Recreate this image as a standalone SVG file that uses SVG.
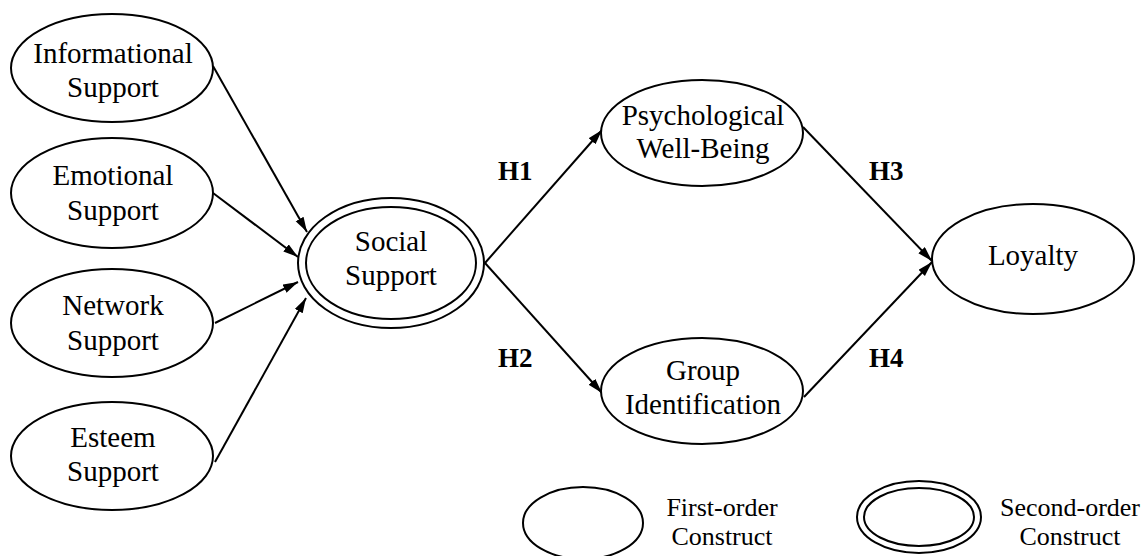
<svg xmlns="http://www.w3.org/2000/svg" width="1147" height="556" viewBox="0 0 1147 556">
<style>
.n{fill:#fff;stroke:#000;stroke-width:2}
.t{font-family:"Liberation Serif","Times New Roman",serif;font-size:29px;text-anchor:middle;fill:#000}
.l{font-family:"Liberation Serif","Times New Roman",serif;font-size:26px;text-anchor:middle;fill:#000}
.h{font-family:"Liberation Serif","Times New Roman",serif;font-size:27px;font-weight:bold;fill:#000}
.c{stroke:#000;stroke-width:2;fill:none}
</style>
<defs>
<marker id="ar" markerUnits="userSpaceOnUse" markerWidth="16" markerHeight="10" refX="15" refY="4.5" orient="auto">
<path d="M0,0 L15,4.5 L0,9 z" fill="#000"/>
</marker>
</defs>
<rect width="1147" height="556" fill="#fff"/>
<g id="connectors">
<line class="c" x1="213" y1="66" x2="307" y2="232" marker-end="url(#ar)"/>
<line class="c" x1="213" y1="193" x2="298" y2="257" marker-end="url(#ar)"/>
<line class="c" x1="215" y1="323" x2="298" y2="282" marker-end="url(#ar)"/>
<line class="c" x1="215" y1="462" x2="306" y2="298" marker-end="url(#ar)"/>
<line class="c" x1="485" y1="263" x2="602" y2="130" marker-end="url(#ar)"/>
<line class="c" x1="485" y1="263" x2="602" y2="393" marker-end="url(#ar)"/>
<line class="c" x1="803" y1="127" x2="932" y2="261" marker-end="url(#ar)"/>
<line class="c" x1="804" y1="397" x2="932" y2="262" marker-end="url(#ar)"/>
</g>
<g id="informational">
<ellipse class="n" cx="112" cy="68" rx="101" ry="54"/>
<text class="t" x="113" y="63">Informational</text>
<text class="t" x="113" y="97">Support</text>
</g>
<g id="emotional">
<ellipse class="n" cx="112" cy="193" rx="101" ry="55"/>
<text class="t" x="113" y="185">Emotional</text>
<text class="t" x="113" y="220">Support</text>
</g>
<g id="network">
<ellipse class="n" cx="112" cy="323" rx="101" ry="54"/>
<text class="t" x="113" y="315">Network</text>
<text class="t" x="113" y="350">Support</text>
</g>
<g id="esteem">
<ellipse class="n" cx="112" cy="456" rx="101" ry="54"/>
<text class="t" x="113" y="447">Esteem</text>
<text class="t" x="113" y="481">Support</text>
</g>
<g id="social">
<ellipse class="n" cx="391" cy="263" rx="93" ry="65"/>
<ellipse class="n" cx="391" cy="263" rx="85" ry="56"/>
<text class="t" x="391" y="251">Social</text>
<text class="t" x="391" y="285">Support</text>
</g>
<g id="psych">
<ellipse class="n" cx="702" cy="133" rx="101" ry="53"/>
<text class="t" x="703" y="125">Psychological</text>
<text class="t" x="703" y="158">Well-Being</text>
</g>
<g id="group">
<ellipse class="n" cx="702" cy="391" rx="101" ry="53"/>
<text class="t" x="703" y="380">Group</text>
<text class="t" x="703" y="414">Identification</text>
</g>
<g id="loyalty">
<ellipse class="n" cx="1033" cy="259" rx="101" ry="55"/>
<text class="t" x="1033" y="265">Loyalty</text>
</g>
<g id="labels">
<text class="h" x="498" y="180">H1</text>
<text class="h" x="498" y="367">H2</text>
<text class="h" x="869" y="180">H3</text>
<text class="h" x="869" y="367">H4</text>
</g>
<g id="legend-first">
<ellipse class="n" cx="583" cy="523" rx="60" ry="36"/>
<text class="l" x="722" y="516">First-order</text>
<text class="l" x="722" y="545">Construct</text>
</g>
<g id="legend-second">
<ellipse class="n" cx="919" cy="517" rx="62" ry="36"/>
<ellipse class="n" cx="919" cy="517" rx="55" ry="29"/>
<text class="l" x="1070" y="516">Second-order</text>
<text class="l" x="1070" y="545">Construct</text>
</g>
</svg>
